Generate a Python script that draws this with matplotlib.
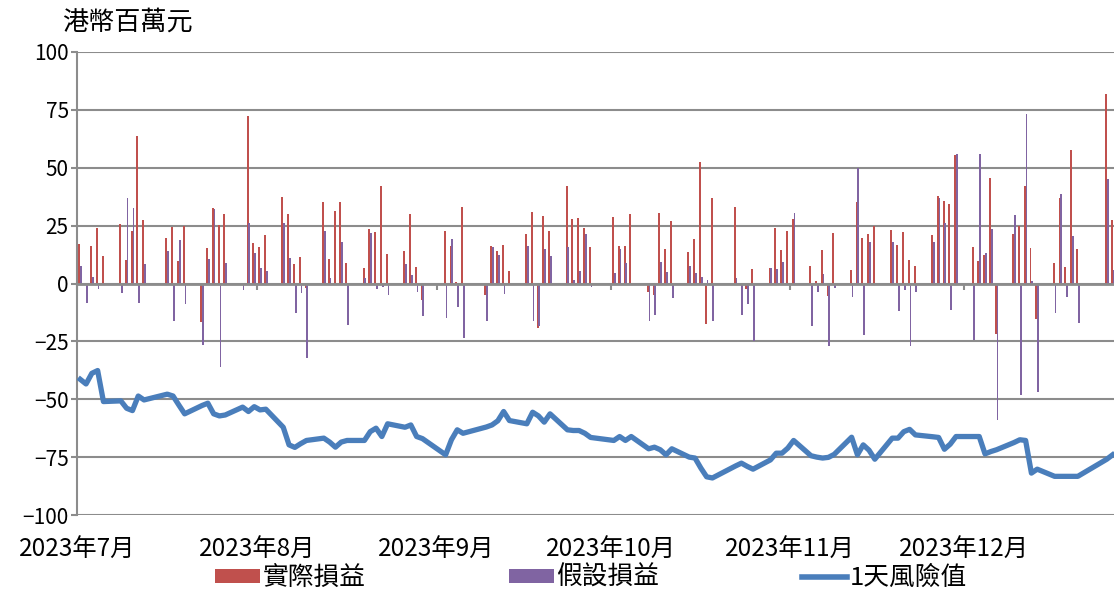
import pandas as pd
import matplotlib
matplotlib.use("Agg")
import matplotlib.pyplot as plt
import matplotlib.dates as mdates
from matplotlib.lines import Line2D
from matplotlib.patches import Patch

# trading days, Jul - Dec 2023 (one row per week)
dates = [
    "2023-07-03", "2023-07-04", "2023-07-05", "2023-07-06", "2023-07-07",
    "2023-07-10", "2023-07-11", "2023-07-12", "2023-07-13", "2023-07-14",
    "2023-07-18", "2023-07-19", "2023-07-20", "2023-07-21",
    "2023-07-24", "2023-07-25", "2023-07-26", "2023-07-27", "2023-07-28",
    "2023-07-31", "2023-08-01", "2023-08-02", "2023-08-03", "2023-08-04",
    "2023-08-07", "2023-08-08", "2023-08-09", "2023-08-10", "2023-08-11",
    "2023-08-14", "2023-08-15", "2023-08-16", "2023-08-17", "2023-08-18",
    "2023-08-21", "2023-08-22", "2023-08-23", "2023-08-24", "2023-08-25",
    "2023-08-28", "2023-08-29", "2023-08-30", "2023-08-31",
    "2023-09-04", "2023-09-05", "2023-09-06", "2023-09-07",
    "2023-09-11", "2023-09-12", "2023-09-13", "2023-09-14", "2023-09-15",
    "2023-09-18", "2023-09-19", "2023-09-20", "2023-09-21", "2023-09-22",
    "2023-09-25", "2023-09-26", "2023-09-27", "2023-09-28", "2023-09-29",
    "2023-10-03", "2023-10-04", "2023-10-05", "2023-10-06",
    "2023-10-09", "2023-10-10", "2023-10-11", "2023-10-12", "2023-10-13",
    "2023-10-16", "2023-10-17", "2023-10-18", "2023-10-19", "2023-10-20",
    "2023-10-24", "2023-10-25", "2023-10-26", "2023-10-27",
    "2023-10-30", "2023-10-31", "2023-11-01", "2023-11-02", "2023-11-03",
    "2023-11-06", "2023-11-07", "2023-11-08", "2023-11-09", "2023-11-10",
    "2023-11-13", "2023-11-14", "2023-11-15", "2023-11-16", "2023-11-17",
    "2023-11-20", "2023-11-21", "2023-11-22", "2023-11-23", "2023-11-24",
    "2023-11-27", "2023-11-28", "2023-11-29", "2023-11-30", "2023-12-01",
    "2023-12-04", "2023-12-05", "2023-12-06", "2023-12-07", "2023-12-08",
    "2023-12-11", "2023-12-12", "2023-12-13", "2023-12-14", "2023-12-15",
    "2023-12-18", "2023-12-19", "2023-12-20", "2023-12-21", "2023-12-22",
    "2023-12-27", "2023-12-28",
]

# 實際損益 (actual P&L)
actual = [
    17.0, 0, 16.1, 23.9, 12.0,
    25.7, 10.3, 22.7, 63.8, 27.3,
    19.5, 24.4, 9.9, 25.0,
    -16.8, 15.4, 32.6, 25.1, 30.0,
    0, 72.4, 17.7, 15.8, 20.8,
    37.4, 30.0, 8.5, 11.4, -2.0,
    35.0, 10.5, 31.3, 35.0, 9.0,
    6.6, 23.6, 22.3, 42.0, 12.6,
    14.1, 30.0, 7.2, -7.3,
    22.7, 16.2, 0.7, 33.2,
    -5.0, 16.2, 14.1, 16.8, 5.5,
    21.4, 30.9, -19.4, 29.0, 22.7,
    42.0, 27.7, 28.2, 24.0, 15.8,
    28.6, 16.2, 16.2, 30.0,
    -3.7, -5.0, 30.5, 15.0, 26.9,
    13.7, 19.1, 52.3, -17.4, 36.9,
    33.2, 0, -2.3, 6.2,
    6.6, 24.0, 14.4, 22.7, 27.7,
    7.6, 1.1, 14.4, -5.6, 21.8,
    5.7, 35.0, 19.5, 21.4, 24.9,
    23.1, 16.7, 22.3, 10.3, 7.6,
    21.0, 37.8, 35.5, 34.2, 55.6,
    15.8, 9.9, 12.2, 45.5, -21.8,
    21.4, 25.0, 42.2, 15.4, -15.4,
    8.9, 36.8, 7.0, 57.8, 14.8,
    82.0, 27.3,
]

# 假設損益 (hypothetical P&L)
hypothetical = [
    7.5, -8.3, 2.9, -2.4, 0.3,
    -3.9, 36.8, 32.5, -8.3, 8.3,
    14.0, -16.4, 19.0, -8.8,
    -26.4, 10.5, 32.2, -36.0, 8.8,
    -2.7, 26.0, 13.0, 6.6, 5.5,
    26.0, 10.8, -12.8, -4.2, -32.0,
    22.7, 2.2, 0, 18.1, -18.0,
    2.2, 21.8, -2.3, -1.7, -5.0,
    8.5, 3.6, -3.7, -14.2,
    -15.0, 19.1, -10.3, -23.7,
    -16.4, 15.8, 12.4, -4.6, 0,
    16.2, -16.4, -18.4, 15.0, 11.9,
    15.8, 1.7, 5.5, 21.4, -1.4,
    4.5, 15.0, 9.0, 0,
    -16.0, -13.8, 9.5, 5.0, -6.3,
    7.6, 4.5, 3.0, 1.7, -16.4,
    2.2, -13.8, -9.0, -24.7,
    6.6, 6.2, 9.5, 0, 30.5,
    -18.2, -3.7, 3.9, -27.0, -1.9,
    -6.0, 50.1, -22.4, 17.8, 0,
    17.8, -11.8, -3.0, -27.2, -3.6,
    17.8, 36.9, 26.0, -11.4, 56.0,
    -24.3, 56.0, 13.2, 23.6, -59.0,
    29.5, -48.0, 73.3, 1.0, -47.0,
    -12.8, 38.5, -5.9, 20.5, -17.1,
    45.1, 5.7,
]

# 1天風險值 (1-day VaR)
var_1d = [
    -41.4, -43.4, -38.8, -37.6, -51.0,
    -50.7, -53.9, -54.9, -48.6, -50.3,
    -47.8, -48.6, -52.5, -56.3,
    -52.7, -51.7, -56.3, -57.2, -56.8,
    -53.4, -55.3, -53.2, -54.6, -54.3,
    -62.1, -69.7, -70.8, -69.2, -67.8,
    -66.8, -68.5, -70.7, -68.5, -67.8,
    -67.8, -64.0, -62.5, -66.1, -60.6,
    -62.1, -61.1, -66.1, -67.0,
    -74.0, -67.5, -63.2, -64.7,
    -62.0, -61.1, -59.3, -55.3, -59.2,
    -60.6, -55.6, -57.2, -59.9, -56.3,
    -63.2, -63.5, -63.5, -64.7, -66.5,
    -67.8, -66.1, -67.8, -66.1,
    -71.4, -70.7, -71.8, -74.0, -71.4,
    -75.0, -75.4, -79.7, -83.5, -84.0,
    -78.8, -77.6, -79.0, -80.2,
    -76.2, -73.3, -73.3, -71.1, -67.8,
    -74.4, -75.0, -75.4, -75.1, -73.8,
    -66.4, -74.0, -69.7, -72.0, -75.9,
    -66.8, -66.8, -64.0, -63.0, -65.4,
    -66.2, -66.5, -71.6, -69.4, -66.1,
    -66.1, -66.1, -73.6, -72.6, -71.8,
    -68.7, -67.5, -67.8, -81.9, -80.2,
    -83.3, -83.3, -83.3, -83.3, -83.3,
    -75.9, -74.0,
]

month_ticks = ["2023-07-03", "2023-08-03", "2023-09-03", "2023-10-03", "2023-11-03", "2023-12-03"]
month_labels = ["2023年7月", "2023年8月", "2023年9月", "2023年10月", "2023年11月", "2023年12月"]

RED = "#C0504D"
PURPLE = "#8064A2"
BLUE = "#4A7EBB"
GRID = "#8C8C8C"

plt.rcParams['font.family'] = ['Noto Sans CJK TC', 'DejaVu Sans']

x = mdates.date2num(pd.to_datetime(dates))
ticks = mdates.date2num(pd.to_datetime(month_ticks))

fig = plt.figure(figsize=(11.14, 5.91), dpi=100)
ax = fig.add_axes([77 / 1114, 76 / 591, 1037 / 1114, 463 / 591])

ax.bar(x + 0.41, actual, width=0.33, color=RED, zorder=2)
ax.bar(x + 0.72, hypothetical, width=0.30, color=PURPLE, zorder=2)
ax.plot(x + 0.56, var_1d, color=BLUE, lw=3.8, zorder=3, solid_joinstyle='round')

ax.set_xlim(ticks[0], ticks[0] + 178.8)
ax.set_ylim(-100, 100)
ax.set_yticks(range(-100, 101, 25))
ax.yaxis.grid(True, color=GRID, lw=1.5)
ax.set_axisbelow(True)

for s in ["top", "right"]:
    ax.spines[s].set_visible(False)
ax.spines["left"].set_color(GRID)
ax.spines["left"].set_linewidth(1.5)
ax.spines["bottom"].set_position(("data", 0))
ax.spines["bottom"].set_color(GRID)
ax.spines["bottom"].set_linewidth(2)

ax.set_xticks(ticks)
ax.tick_params(axis="x", direction="out", length=4, width=1.5, color=GRID, labelbottom=False)
ax.tick_params(axis="y", direction="out", length=4, width=1.5, color=GRID, pad=2, labelsize=15)

sec = ax.secondary_xaxis(0)
sec.set_xticks(ticks, labels=month_labels)
sec.tick_params(length=0, pad=16, labelsize=17.5)
sec.spines["bottom"].set_visible(False)

fig.text(62 / 1114, 1 - 22 / 591, "港幣百萬元", fontsize=18.8, ha="left", va="center")

handles = [
    Patch(facecolor=RED, edgecolor="none"),
    Patch(facecolor=PURPLE, edgecolor="none"),
    Line2D([], [], color=BLUE, lw=4),
]
fig.legend(handles, ["實際損益", "假設損益", "1天風險值"], loc="center",
           bbox_to_anchor=(591 / 1114, 1 - 578 / 591), ncol=3, frameon=False,
           fontsize=18.5, handlelength=1.75, handleheight=0.5, handletextpad=0.1,
           columnspacing=5.55, borderpad=0)

fig.savefig("out.png", dpi=100)
